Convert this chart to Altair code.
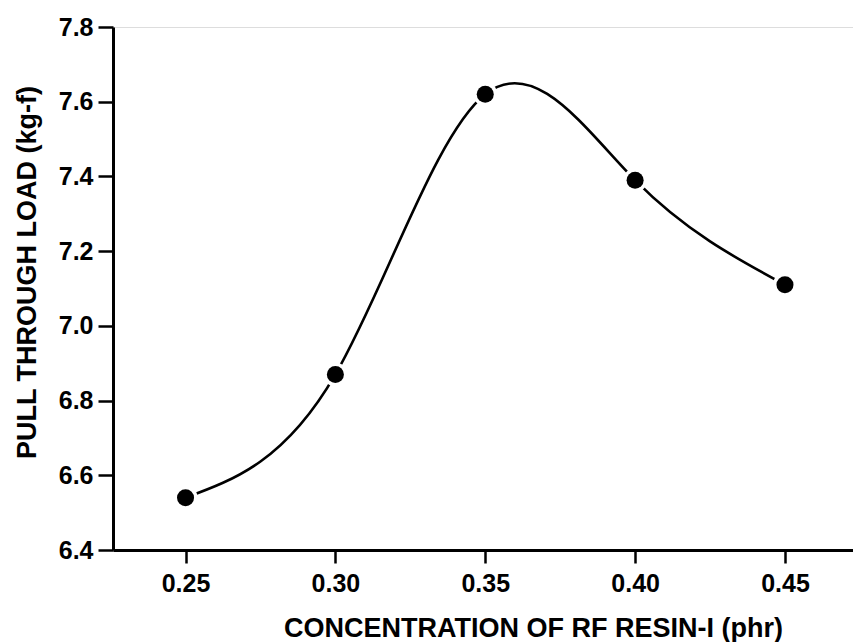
import altair as alt
import pandas as pd

# Pull-through load versus RF resin concentration
concentration = [0.25, 0.30, 0.35, 0.40, 0.45]
pull_load = [6.54, 6.87, 7.62, 7.39, 7.11]

x_ticks = [0.25, 0.30, 0.35, 0.40, 0.45]
y_ticks = [6.4, 6.6, 6.8, 7.0, 7.2, 7.4, 7.6, 7.8]

df = pd.DataFrame({"conc": concentration, "load": pull_load})

FONT = "Liberation Sans"

x_enc = alt.X(
    "conc:Q",
    scale=alt.Scale(domain=[0.2258, 0.4727], nice=False, zero=False),
    axis=alt.Axis(
        title="CONCENTRATION OF RF RESIN-I (phr)",
        values=x_ticks,
        format=".2f",
        grid=False,
        domainColor="black",
        domainWidth=3,
        tickColor="black",
        tickWidth=2.5,
        tickSize=13,
        labelFont=FONT,
        labelFontSize=25,
        labelFontWeight="bold",
        labelColor="black",
        labelBaseline="alphabetic",
        labelPadding=28,
        titleFont=FONT,
        titleFontSize=27,
        titleFontWeight="bold",
        titleColor="black",
        titleBaseline="alphabetic",
        titleAlign="center",
        titleAnchor="start",
        titleX=420,
        titleY=86,
    ),
)

y_enc = alt.Y(
    "load:Q",
    scale=alt.Scale(domain=[6.4, 7.8], nice=False, zero=False),
    axis=alt.Axis(
        title="PULL THROUGH LOAD (kg-f)",
        values=y_ticks,
        format=".1f",
        grid=False,
        domainColor="black",
        domainWidth=3,
        tickColor="black",
        tickWidth=2.5,
        tickSize=15,
        labelFont=FONT,
        labelFontSize=25,
        labelFontWeight="bold",
        labelColor="black",
        labelPadding=5,
        titleFont=FONT,
        titleFontSize=27,
        titleFontWeight="bold",
        titleColor="black",
        titleAngle=270,
        titleBaseline="alphabetic",
        titleAlign="center",
        titleAnchor="start",
        titleX=-78,
        titleY=245,
    ),
)

base = alt.Chart(df)

curve = base.mark_line(
    interpolate="natural", color="black", strokeWidth=2.6
).encode(x=x_enc, y=y_enc)

# white ring that opens a small gap in the curve around each marker
halo = base.mark_point(
    shape="circle", size=580, filled=True, fill="white", strokeWidth=0, opacity=1
).encode(x="conc:Q", y="load:Q")

dots = base.mark_point(
    shape="circle", size=290, filled=True, fill="black", strokeWidth=0, opacity=1
).encode(x="conc:Q", y="load:Q")

chart = (
    alt.layer(curve, halo, dots)
    .properties(
        width=740,
        height=523,
        autosize=alt.AutoSizeParams(type="none"),
        padding={"left": 113, "top": 27, "right": 0, "bottom": 92},
    )
    .configure_view(stroke="black", strokeWidth=3)
    .configure(background="white")
)

chart.save("out.html", embed_options={"renderer": "svg", "actions": False})
